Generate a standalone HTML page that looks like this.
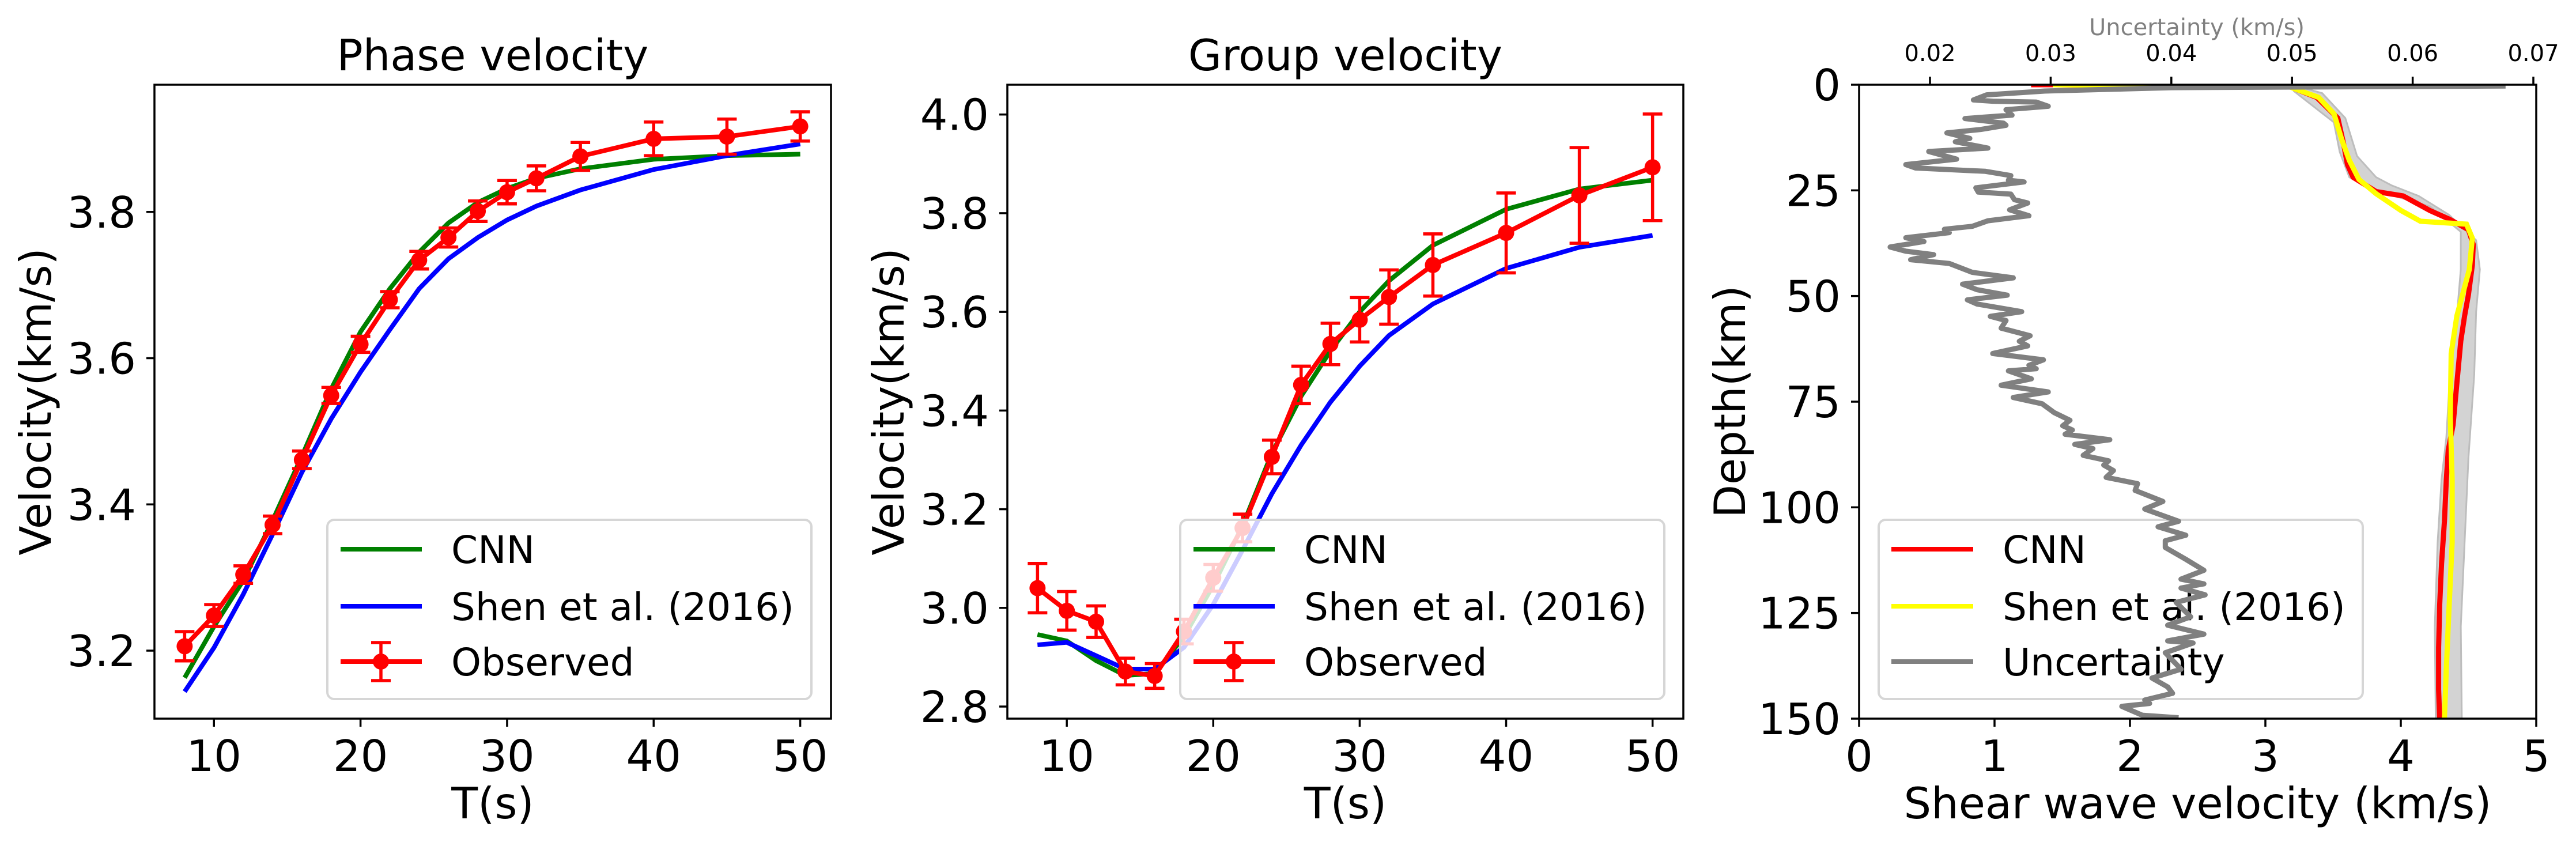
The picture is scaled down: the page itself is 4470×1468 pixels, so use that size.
<!DOCTYPE html>
<html><head><meta charset="utf-8"><style>
html,body{margin:0;padding:0;background:#fff;}
svg{display:block;font-family:"DejaVu Sans","Liberation Sans",sans-serif;}
</style></head><body>
<svg id="fig" width="4470" height="1468" viewBox="0 0 4470 1468" xmlns="http://www.w3.org/2000/svg">
<rect width="4470" height="1468" fill="#fff"/>
<g id="p1"></g>
<g id="p2"></g>
<g id="p3"></g>
</svg>
<script>
// ---------- data ----------
const periods = [8,10,12,14,16,18,20,22,24,26,28,30,32,35,40,45,50];
const phaseObs = [3.206,3.248,3.304,3.372,3.461,3.549,3.619,3.680,3.734,3.765,3.801,3.827,3.846,3.876,3.900,3.903,3.917];
const phaseErr = [0.02,0.015,0.012,0.012,0.012,0.011,0.011,0.011,0.012,0.013,0.014,0.016,0.017,0.019,0.023,0.024,0.02];
const phaseCNN = [3.163,3.233,3.296,3.378,3.466,3.558,3.636,3.695,3.745,3.785,3.813,3.832,3.846,3.859,3.872,3.877,3.879];
const phaseShen = [3.144,3.204,3.277,3.359,3.444,3.517,3.581,3.639,3.695,3.736,3.765,3.789,3.808,3.830,3.858,3.877,3.893];
const groupObs = [3.040,2.994,2.972,2.871,2.862,2.952,3.061,3.162,3.306,3.452,3.535,3.584,3.630,3.695,3.760,3.836,3.893];
const groupErr = [0.05,0.039,0.032,0.027,0.025,0.025,0.027,0.028,0.034,0.038,0.042,0.045,0.055,0.063,0.081,0.097,0.108];
const groupCNN = [2.946,2.933,2.893,2.863,2.867,2.942,3.046,3.166,3.313,3.429,3.521,3.600,3.663,3.735,3.808,3.849,3.867];
const groupShen = [2.925,2.930,2.903,2.876,2.876,2.920,3.007,3.117,3.231,3.330,3.417,3.490,3.552,3.616,3.688,3.731,3.755];
const xTicksT = [10,20,30,40,50];
const yTicksPhase = [3.2,3.4,3.6,3.8];
const yTicksGroup = [2.8,3.0,3.2,3.4,3.6,3.8,4.0];

const cnnDepth = [0,0,0.5,1.0,3.0,7.9,13.9,18.9,21.9,25.3,26.3,29.8,31.8,34.3,37.8,42.7,49.7,54.7,60.6,70.6,80.5,86.5,93.4,103.3,113.3,123.2,133.2,143.1,150];
const cnnVs = [1.27,1.43,3.2,3.22,3.379,3.535,3.577,3.606,3.648,3.818,4.017,4.216,4.357,4.499,4.535,4.528,4.499,4.471,4.443,4.414,4.386,4.35,4.336,4.322,4.301,4.287,4.279,4.279,4.287];
const shenDepth = [0,0.5,1.0,3.0,6.9,12.9,17.9,22.4,25.8,29.8,32.3,33.0,36.3,43.7,54.7,63.6,78.5,93.4,108.3,123.2,138.1,150];
const shenVs = [1.43,3.18,3.22,3.393,3.507,3.563,3.62,3.691,3.818,4.003,4.145,4.485,4.528,4.506,4.414,4.372,4.365,4.379,4.379,4.357,4.336,4.322];
const bandLeftDepth = [0.5,1.5,8.9,15.9,21.9,24.8,28.8,34.8,43.7,54.7,63.6,83.5,93.4,108.3,128.2,150];
const bandLeftVs = [3.2,3.21,3.506,3.549,3.62,3.79,4.216,4.443,4.443,4.414,4.372,4.336,4.301,4.272,4.251,4.258];
const bandRightDepth = [0.5,2,7.9,16.9,21.9,23.8,26.3,30.8,36.8,43.7,53.7,68.6,88.4,108.3,128.2,150];
const bandRightVs = [3.25,3.42,3.59,3.677,3.818,3.93,4.13,4.357,4.556,4.584,4.556,4.542,4.499,4.471,4.443,4.45];
const uncDepth = [0.3,0.7,1.5,2.4,3.6,3.9,4.1,5.1,5.9,7.2,8.0,9.1,9.6,10.6,11.4,12.7,13.5,15.0,15.8,17.6,18.9,19.7,20.5,21.5,22.6,23.0,24.4,25.4,25.9,27.2,28.0,29.6,31.0,32.2,33.5,34.2,35.0,36.2,37.1,38.4,39.4,40.2,41.4,42.3,44.4,45.7,47.2,48.5,49.8,50.9,51.9,53.7,54.8,55.8,57.6,59.4,60.7,61.8,63.6,65.1,66.4,67.2,67.7,69.6,71.1,72.7,74.0,75.5,77.6,79.4,80.7,81.7,82.7,84.0,85.1,86.1,87.7,89.0,90.0,91.3,92.9,94.4,96.0,98.6,100.4,103.3,104.6,106.6,107.9,109.5,112.3,114.9,117.0,118.1,119.1,120.7,122.5,125.9,127.9,130.0,131.6,132.1,134.4,138.3,140.4,142.5,144.0,145.6,146.4,147.1,149.2,149.8];
const uncVal = [0.0677,0.0400,0.0295,0.0247,0.0236,0.0252,0.0288,0.0298,0.0263,0.0268,0.0229,0.0261,0.0263,0.0242,0.0214,0.0233,0.0221,0.0248,0.0199,0.0222,0.0180,0.0188,0.0246,0.0267,0.0265,0.0278,0.0238,0.0240,0.0267,0.0270,0.0281,0.0266,0.0282,0.0248,0.0235,0.0212,0.0216,0.0180,0.0195,0.0167,0.0180,0.0203,0.0184,0.0216,0.0235,0.0269,0.0227,0.0239,0.0264,0.0231,0.0239,0.0276,0.0250,0.0263,0.0259,0.0283,0.0274,0.0281,0.0252,0.0294,0.0282,0.0288,0.0265,0.0284,0.0259,0.0298,0.0269,0.0293,0.0303,0.0316,0.0310,0.0318,0.0312,0.0349,0.0320,0.0335,0.0327,0.0348,0.0344,0.0352,0.0346,0.0372,0.0370,0.0393,0.0378,0.0406,0.0389,0.0412,0.0395,0.0395,0.0412,0.0427,0.0408,0.0427,0.0408,0.0428,0.0404,0.0416,0.0397,0.0427,0.0397,0.0418,0.0395,0.0408,0.0384,0.0397,0.0401,0.0378,0.0382,0.0359,0.0376,0.0406];
const vsTicks = [0,1,2,3,4,5];
const depthTicks = [0,25,50,75,100,125,150];
const uncTicks = [0.02,0.03,0.04,0.05,0.06,0.07];

// ---------- helpers ----------
const NS='http://www.w3.org/2000/svg';
function mk(parent,tag,attrs,text){const e=document.createElementNS(NS,tag);for(const k in attrs)e.setAttribute(k,attrs[k]);if(text!==undefined)e.textContent=text;parent.appendChild(e);return e;}
function lin(d0,d1,r0,r1){return v=>r0+(v-d0)/(d1-d0)*(r1-r0);}
const TOP=147,BOT=1247,FS=75,LFS=66;

function linePath(xs,ys,sx,sy){return xs.map((x,i)=>(i?'L':'M')+sx(x).toFixed(1)+' '+sy(ys[i]).toFixed(1)).join(' ');}

function dispPanel(g,L,R,ymin,ymax,yTicks,obs,err,cnn,shen,title,clipId,legendAlpha){
  const sx=lin(5.94,52.1,L,R), sy=lin(ymin,ymax,BOT,TOP);
  const cp=mk(g,'clipPath',{id:clipId});mk(cp,'rect',{x:L,y:TOP,width:R-L,height:BOT-TOP});
  const plot=mk(g,'g',{'clip-path':'url(#'+clipId+')'});
  const gl=mk(plot,'path',{d:linePath(periods,cnn,sx,sy),fill:'none',stroke:'#008000','stroke-width':8});
  
  const bl=mk(plot,'path',{d:linePath(periods,shen,sx,sy),fill:'none',stroke:'#0000ff','stroke-width':8});
  
  const ol=mk(plot,'path',{d:linePath(periods,obs,sx,sy),fill:'none',stroke:'#ff0000','stroke-width':8});
  
  periods.forEach((t,i)=>{
    const x=sx(t),y1=sy(obs[i]+err[i]),y2=sy(obs[i]-err[i]);
    const eb=mk(plot,'path',{d:`M${x} ${y1}L${x} ${y2}M${x-17} ${y1}L${x+17} ${y1}M${x-17} ${y2}L${x+17} ${y2}`,stroke:'#ff0000','stroke-width':5.5,fill:'none'});
    
    const c=mk(plot,'circle',{cx:x,cy:sy(obs[i]),r:14,fill:'#ff0000'});
    
  });
  mk(g,'rect',{x:L,y:TOP,width:R-L,height:BOT-TOP,fill:'none',stroke:'#000','stroke-width':3.5});
  xTicksT.forEach(t=>{const x=sx(t);mk(g,'line',{x1:x,x2:x,y1:BOT,y2:BOT+14,stroke:'#000','stroke-width':3.5});
    const tl=mk(g,'text',{x:x,y:1338,'font-size':FS,'text-anchor':'middle'},String(t));});
  yTicks.forEach(v=>{const y=sy(v);mk(g,'line',{x1:L-14,x2:L,y1:y,y2:y,stroke:'#000','stroke-width':3.5});
    const tl=mk(g,'text',{x:L-32,y:y+27,'font-size':FS,'text-anchor':'end'},v.toFixed(1));});
  const ttl=mk(g,'text',{x:(L+R)/2,y:122,'font-size':FS,'text-anchor':'middle'},title);
  const xl=mk(g,'text',{x:(L+R)/2,y:1420,'font-size':FS,'text-anchor':'middle'},'T(s)');
  const yx=L-180;
  const yl=mk(g,'text',{x:0,y:0,'font-size':FS,'text-anchor':'middle',transform:`translate(${yx},${(TOP+BOT)/2}) rotate(-90)`},'Velocity(km/s)');
  const lx=L+300, lg=mk(g,'g',{});
  mk(lg,'rect',{x:lx,y:902,width:840,height:311,rx:12,fill:'#fff','fill-opacity':legendAlpha,stroke:'#d6d6d6','stroke-width':4});
  const ents=[['CNN','#008000',953],['Shen et al. (2016)','#0000ff',1052],['Observed','#ff0000',1148]];
  ents.forEach((e,i)=>{const en=mk(lg,'g',{});
    mk(en,'line',{x1:lx+23,x2:lx+164,y1:e[2],y2:e[2],stroke:e[1],'stroke-width':8});
    if(i===2){const cx=lx+93;mk(en,'path',{d:`M${cx} ${e[2]-33}L${cx} ${e[2]+33}M${cx-17} ${e[2]-33}L${cx+17} ${e[2]-33}M${cx-17} ${e[2]+33}L${cx+17} ${e[2]+33}`,stroke:'#ff0000','stroke-width':5.5});mk(en,'circle',{cx:cx,cy:e[2],r:14,fill:'#ff0000'});}
    mk(en,'text',{x:lx+215,y:e[2]+24,'font-size':LFS},e[0]);});
}

dispPanel(document.getElementById('p1'),268,1442,3.107,3.974,yTicksPhase,phaseObs,phaseErr,phaseCNN,phaseShen,'Phase velocity','c1',0.8);
dispPanel(document.getElementById('p2'),1748,2921,2.7755,4.0604,yTicksGroup,groupObs,groupErr,groupCNN,groupShen,'Group velocity','c2',0.8);

// ---------- panel 3 ----------
(function(){
  const g=document.getElementById('p3'),L=3226,R=4401;
  const sx=lin(0,5,L,R), sy=lin(0,150,TOP,BOT), su=lin(0.02,0.07,3349,4396);
  const cp=mk(g,'clipPath',{id:'c3'});mk(cp,'rect',{x:L,y:TOP,width:R-L,height:BOT-TOP});
  const plot=mk(g,'g',{'clip-path':'url(#c3)'});
  let d='';bandLeftDepth.forEach((z,i)=>{d+=(i?'L':'M')+sx(bandLeftVs[i]).toFixed(1)+' '+sy(z).toFixed(1);});
  for(let i=bandRightDepth.length-1;i>=0;i--){d+='L'+sx(bandRightVs[i]).toFixed(1)+' '+sy(bandRightDepth[i]).toFixed(1);}
  const band=mk(plot,'path',{d:d+'Z',fill:'#d3d3d3',stroke:'#bdbdbd','stroke-width':3});
  
  const cl=mk(plot,'path',{d:linePath(cnnVs,cnnDepth,sx,sy),fill:'none',stroke:'#ff0000','stroke-width':9});
  
  const yl2=mk(plot,'path',{d:linePath(shenVs,shenDepth,sx,sy),fill:'none',stroke:'#ffff00','stroke-width':9});
  
  const lx=3260, lg=mk(g,'g',{});
  mk(lg,'rect',{x:lx,y:902,width:840,height:311,rx:12,fill:'#fff','fill-opacity':0.8,stroke:'#d6d6d6','stroke-width':4});
  [['CNN','#ff0000',953],['Shen et al. (2016)','#ffff00',1052],['Uncertainty','#808080',1148]].forEach(e=>{
    const en=mk(lg,'g',{});
    mk(en,'line',{x1:lx+22,x2:lx+164,y1:e[2],y2:e[2],stroke:e[1],'stroke-width':8});
    mk(en,'text',{x:lx+215,y:e[2]+24,'font-size':LFS},e[0]);});
  const top=mk(g,'g',{'clip-path':'url(#c3)'});
  const ul=mk(top,'path',{d:linePath(uncVal,uncDepth,su,sy),fill:'none',stroke:'#808080','stroke-width':9,'stroke-linejoin':'round'});
  
  mk(g,'rect',{x:L,y:TOP,width:R-L,height:BOT-TOP,fill:'none',stroke:'#000','stroke-width':3.5});
  vsTicks.forEach(v=>{const x=sx(v);mk(g,'line',{x1:x,x2:x,y1:BOT,y2:BOT+14,stroke:'#000','stroke-width':3.5});
    const t=mk(g,'text',{x:x,y:1338,'font-size':FS,'text-anchor':'middle'},String(v));});
  depthTicks.forEach(v=>{const y=sy(v);mk(g,'line',{x1:L-14,x2:L,y1:y,y2:y,stroke:'#000','stroke-width':3.5});
    const t=mk(g,'text',{x:L-32,y:y+27,'font-size':FS,'text-anchor':'end'},String(v));});
  uncTicks.forEach(v=>{const x=su(v);mk(g,'line',{x1:x,x2:x,y1:TOP-14,y2:TOP,stroke:'#000','stroke-width':3.5});
    const t=mk(g,'text',{x:x,y:106,'font-size':40,'text-anchor':'middle'},v.toFixed(2));});
  const ut=mk(g,'text',{x:3812,y:61,'font-size':40,'text-anchor':'middle',fill:'#808080'},'Uncertainty (km/s)');
  const xt=mk(g,'text',{x:(L+R)/2,y:1420,'font-size':FS,'text-anchor':'middle'},'Shear wave velocity (km/s)');
  const yt=mk(g,'text',{x:0,y:0,'font-size':FS,'text-anchor':'middle',transform:`translate(3028,${(TOP+BOT)/2}) rotate(-90)`},'Depth(km)');
})();
</script>
</body></html>
